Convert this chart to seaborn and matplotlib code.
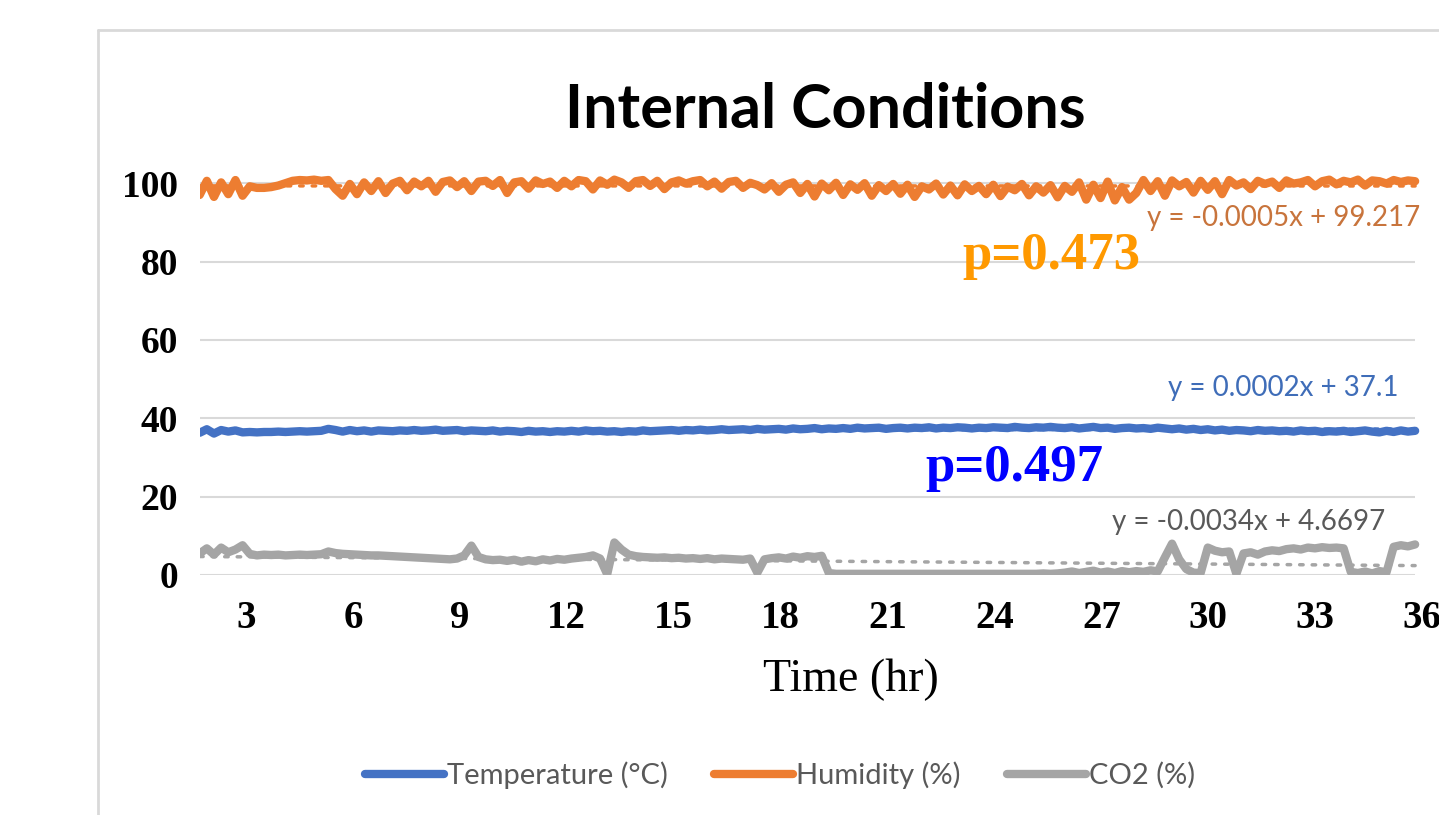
import numpy as np
import pandas as pd
import matplotlib.pyplot as plt
import seaborn as sns
from matplotlib.lines import Line2D

# ---------------------------------------------------------------
# Data (one value every ~0.2 hr)
# ---------------------------------------------------------------
temperature = [
    36.3, 37.2, 36.1, 37.0, 36.6, 36.9, 36.4, 36.5, 36.4, 36.5,
    36.5, 36.6, 36.5, 36.6, 36.7, 36.6, 36.7, 36.8, 37.3, 37.0,
    36.6, 37.0, 36.7, 36.9, 36.6, 36.9, 36.8, 36.7, 36.9, 36.8,
    37.0, 36.8, 36.9, 37.1, 36.8, 36.9, 37.0, 36.7, 36.9, 36.8,
    36.7, 36.9, 36.6, 36.8, 36.7, 36.5, 36.8, 36.6, 36.7, 36.5,
    36.7, 36.6, 36.8, 36.6, 36.9, 36.7, 36.8, 36.6, 36.7, 36.5,
    36.7, 36.6, 36.9, 36.7, 36.8, 36.9, 37.0, 36.8, 37.0, 36.9,
    37.1, 36.9, 37.0, 37.2, 37.0, 37.1, 37.2, 37.0, 37.3, 37.1,
    37.2, 37.3, 37.1, 37.4, 37.2, 37.3, 37.5, 37.2, 37.4, 37.3,
    37.5, 37.3, 37.6, 37.4, 37.5, 37.6, 37.3, 37.5, 37.6, 37.4,
    37.6, 37.5, 37.7, 37.4, 37.6, 37.5, 37.7, 37.6, 37.4, 37.6,
    37.5, 37.7, 37.6, 37.5, 37.8, 37.6, 37.5, 37.7, 37.6, 37.8,
    37.6, 37.5, 37.7, 37.4, 37.6, 37.8, 37.5, 37.6, 37.3, 37.5,
    37.6, 37.4, 37.5, 37.3, 37.6, 37.4, 37.2, 37.4, 37.1, 37.3,
    37.0, 37.2, 36.9, 37.1, 36.8, 37.0, 36.9, 36.7, 37.0, 36.8,
    36.9, 36.7, 36.8, 36.6, 36.9, 36.7, 36.8, 36.5, 36.7, 36.6,
    36.8, 36.5, 36.7, 36.9, 36.6, 36.4, 36.8, 36.5, 36.9, 36.6,
    36.8,
]

humidity = [
    97.0, 100.6, 96.5, 100.2, 97.2, 100.8, 96.8, 99.2, 98.8, 98.8,
    99.0, 99.4, 100.0, 100.6, 100.8, 100.7, 100.9, 100.6, 100.8, 98.5,
    96.8, 99.8, 97.2, 100.2, 98.0, 100.5, 97.5, 99.9, 100.6, 98.2,
    100.4, 99.2, 100.6, 97.8, 100.3, 100.7, 99.0, 100.5, 98.0, 100.4,
    100.6, 99.3, 100.8, 97.5, 100.2, 100.5, 98.6, 100.7, 99.8, 100.4,
    98.8, 100.6, 99.2, 100.8, 100.5, 98.4, 100.7, 99.6, 100.9, 100.2,
    98.8, 100.5, 100.8, 99.3, 100.6, 98.5, 100.2, 100.7, 99.9, 100.5,
    100.8, 99.2, 100.4, 98.6, 100.3, 100.6, 98.8, 100.1, 99.5, 98.4,
    100.0, 97.8, 99.6, 100.2, 97.5, 99.8, 96.6, 99.9, 98.2, 100.1,
    97.0, 99.7, 98.3, 100.0, 96.8, 99.5, 98.0, 99.8, 97.3, 99.6,
    96.5, 99.2, 98.4, 99.9, 97.1, 99.4, 96.9, 99.7, 98.0, 99.3,
    97.2, 99.6, 96.7, 99.1, 98.2, 99.8, 96.9, 99.2, 97.6, 99.5,
    96.4, 99.3, 97.8, 100.2, 95.8, 99.6, 96.2, 100.4, 95.6, 99.0,
    95.8, 97.5, 100.8, 98.0, 100.5, 96.8, 100.7, 99.2, 100.3, 97.6,
    100.6, 98.3, 100.5, 97.2, 100.8, 99.4, 100.2, 98.5, 100.6, 99.8,
    100.4, 98.8, 100.7, 99.9, 100.2, 100.8, 99.2, 100.5, 100.9, 99.7,
    100.6, 100.2, 100.9, 99.4, 100.7, 100.5, 99.9, 100.8, 100.3, 100.7,
    100.5,
]

co2 = [
    5.5, 6.8, 5.2, 7.0, 5.8, 6.5, 7.6, 5.4, 5.0, 5.2,
    5.1, 5.2, 5.0, 5.1, 5.2, 5.1, 5.2, 5.3, 6.0, 5.6,
    5.4, 5.3, 5.2, 5.1, 5.0, 5.0, 4.9, 4.8, 4.7, 4.6,
    4.5, 4.4, 4.3, 4.2, 4.1, 4.0, 4.2, 5.0, 7.5, 4.6,
    4.0, 3.8, 3.9, 3.6, 3.9, 3.4, 3.8, 3.5, 4.0, 3.7,
    4.1, 3.9, 4.2, 4.4, 4.6, 5.0, 4.2, 0.2, 8.3, 6.5,
    5.2, 4.8, 4.6, 4.5, 4.4, 4.5, 4.3, 4.4, 4.2, 4.3,
    4.1, 4.3, 4.0, 4.2, 4.1, 4.0, 3.9, 4.2, 0.6, 4.0,
    4.3, 4.5, 4.2, 4.7, 4.4, 4.8, 4.6, 4.9, 0.5, 0.3,
    0.3, 0.3, 0.3, 0.3, 0.3, 0.3, 0.3, 0.3, 0.3, 0.3,
    0.3, 0.3, 0.3, 0.3, 0.3, 0.3, 0.3, 0.3, 0.3, 0.3,
    0.3, 0.3, 0.3, 0.3, 0.3, 0.3, 0.3, 0.3, 0.4, 0.3,
    0.4, 0.6, 0.9, 0.5, 0.8, 1.1, 0.6, 0.9, 0.5, 1.0,
    0.7, 1.0, 0.8, 1.2, 0.9, 4.5, 8.0, 4.0, 1.5, 0.6,
    0.5, 7.0, 6.2, 5.8, 6.0, 0.3, 5.5, 5.8, 5.2, 6.0,
    6.3, 6.1, 6.6, 6.8, 6.5, 7.0, 6.8, 7.1, 6.9, 7.0,
    6.8, 0.8, 0.5, 0.9, 0.4, 1.0, 0.7, 7.2, 7.6, 7.3,
    7.8,
]

# sampling grid of the logger (hours)
hours = np.linspace(1.7, 35.8, len(co2))

series_names = ["Temperature (\u00b0C)", "Humidity (%)", "CO2 (%)"]
series_colors = ["#4472C4", "#ED7D31", "#A5A5A5"]

equations = ["y = 0.0002x + 37.1", "y = -0.0005x + 99.217", "y = -0.0034x + 4.6697"]
equation_colors = ["#3F6DB8", "#C8743C", "#595959"]
p_values = ["p=0.497", "p=0.473"]
p_colors = ["#0000FF", "#FF9900"]

x_ticks = [3, 6, 9, 12, 15, 18, 21, 24, 27, 30, 33, 36]
y_ticks = [0, 20, 40, 60, 80, 100]

df = pd.DataFrame({"hours": hours, "temperature": temperature,
                   "humidity": humidity, "co2": co2})

# ---------------------------------------------------------------
# Plot
# ---------------------------------------------------------------
sns.set_style("white")
plt.rcParams["font.family"] = ["Liberation Serif", "DejaVu Serif"]
plt.rcParams["text.color"] = "black"
plt.rcParams["xtick.color"] = "black"
plt.rcParams["ytick.color"] = "black"

fig = plt.figure(figsize=(14.39, 8.15), dpi=100)
ax = fig.add_axes([200 / 1439, 240 / 815, 1239 / 1439, 431 / 815])

# gridlines (Excel style, stop at end of data)
ax.hlines(y_ticks, hours[0], hours[-1], color="#D9D9D9", lw=1.5, zorder=0)

for col, name, color in zip(["temperature", "humidity", "co2"], series_names, series_colors):
    sns.lineplot(data=df, x="hours", y=col, ax=ax, color=color, lw=6,
                 label=name, legend=False, zorder=2)

# linear trendlines (dotted)
for col, color in zip(["temperature", "humidity", "co2"], series_colors):
    sns.regplot(data=df, x="hours", y=col, ax=ax, scatter=False, ci=None,
                color=color, line_kws=dict(lw=2.5, ls=(0, (1.0, 2.6)),
                                           dash_capstyle="round", zorder=3))

ax.set_xlim(1.709, 36.47)
ax.set_ylim(0, 110)
ax.set_xticks(x_ticks)
ax.set_xticklabels([str(v) for v in x_ticks], fontsize=28, fontweight="bold")
ax.set_yticks(y_ticks)
ax.set_yticklabels([str(v) for v in y_ticks], fontsize=27, fontweight="bold")
ax.tick_params(axis="x", length=0, pad=18)
ax.tick_params(axis="y", length=0, pad=16)
ax.set_xlabel("")
ax.set_ylabel("")
for s in ax.spines.values():
    s.set_visible(False)

# trendline equations
ax.text(35.94, 91.1, equations[1], color=equation_colors[1], fontsize=20,
        family="Lato", ha="right", va="center")
ax.text(35.32, 47.7, equations[0], color=equation_colors[0], fontsize=20,
        family="Lato", ha="right", va="center")
ax.text(34.96, 13.5, equations[2], color=equation_colors[2], fontsize=20,
        family="Lato", ha="right", va="center")

# p-values
ax.text(23.09, 81.5, p_values[1], color=p_colors[1], fontsize=38,
        fontweight="bold", ha="left", va="center")
ax.text(22.05, 27.3, p_values[0], color=p_colors[0], fontsize=38,
        fontweight="bold", ha="left", va="center")

# title and x label
fig.text(825 / 1439, 1 - 110 / 815, "Internal Conditions", fontsize=44,
         fontweight="bold", family="Lato", ha="center", va="center")
fig.text(851 / 1439, 1 - 680 / 815, "Time (hr)", fontsize=33,
         ha="center", va="center")

# chart border
fig.add_artist(Line2D([98 / 1439, 98 / 1439], [0, 1 - 30 / 815], color="#D9D9D9", lw=2))
fig.add_artist(Line2D([98 / 1439, 1], [1 - 30 / 815, 1 - 30 / 815], color="#D9D9D9", lw=2))

# legend
handles = [Line2D([], [], color=c, lw=6, solid_capstyle="round") for c in series_colors]
fig.legend(handles, series_names, loc="center", ncol=3,
           bbox_to_anchor=(780 / 1439, 1 - 775 / 815), frameon=False,
           prop={"family": "Lato", "size": 21}, labelcolor="#595959",
           handlelength=2.7, handletextpad=0.1, columnspacing=1.6)

fig.savefig("out.png", dpi=100)
